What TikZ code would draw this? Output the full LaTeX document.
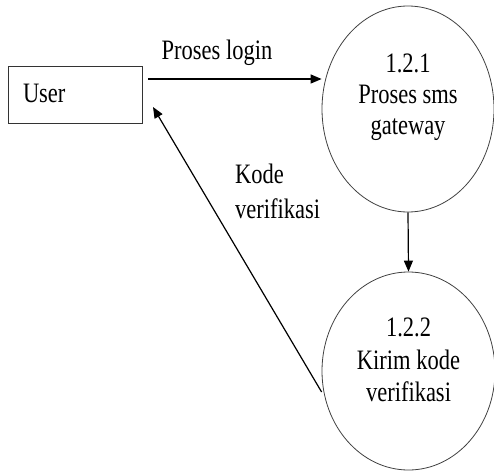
\documentclass[tikz,border=0pt]{standalone}
\usepackage{fontspec}
\usepackage{graphicx}
\setmainfont{Liberation Serif}
\usetikzlibrary{shapes.geometric,arrows.meta}
\newcommand{\vst}[1]{\scalebox{1}[1.25]{#1}}
\begin{document}
\begin{tikzpicture}[x=1pt,y=-1pt,
  every node/.style={font=\fontsize{22.5}{32}\selectfont},
  proc/.style={draw=black!75,line width=0.8pt,ellipse,inner sep=0pt,align=center},
  ent/.style={draw=black!80,line width=0.8pt,rectangle,inner xsep=15pt,inner ysep=0pt,
    text width=104pt,minimum height=57pt,align=left},
  arr/.style={line width=1.2pt,-{Triangle[length=11pt,width=9pt]}},
  lbl/.style={align=left,inner sep=0pt}]
\useasboundingbox (0,0) rectangle (494,470);
\node[ent,text depth=3pt] (user) at (75,94.5) {\vst{User}};
\node[proc,minimum width=172pt,minimum height=206pt,text depth=29pt,
  font=\fontsize{22.5}{31}\selectfont] (p1) at (408,109) {\vst{1.2.1}\\\vst{Proses sms}\\\vst{gateway}};
\node[proc,minimum width=173pt,minimum height=198pt,text depth=22pt,
  font=\fontsize{22.5}{32.5}\selectfont] (p2) at (408.5,371) {\vst{1.2.2}\\\vst{Kirim kode}\\\vst{verifikasi}};
\coordinate (a) at (148,79);
\coordinate (b) at (153,107);
\draw[arr] (a) -- (a -| p1.west);
\draw[arr] (p1.south) -- (p2.north);
\draw[arr] ([yshift=-21pt]p2.west) -- (b);
\node[lbl,anchor=base] (l1) at (217,60) {\vst{Proses login}};
\node[lbl,anchor=base west,font=\fontsize{22.5}{34}\selectfont] (l2) at (235,218) {\vst{Kode}\\\vst{verifikasi}};
\end{tikzpicture}
\end{document}
